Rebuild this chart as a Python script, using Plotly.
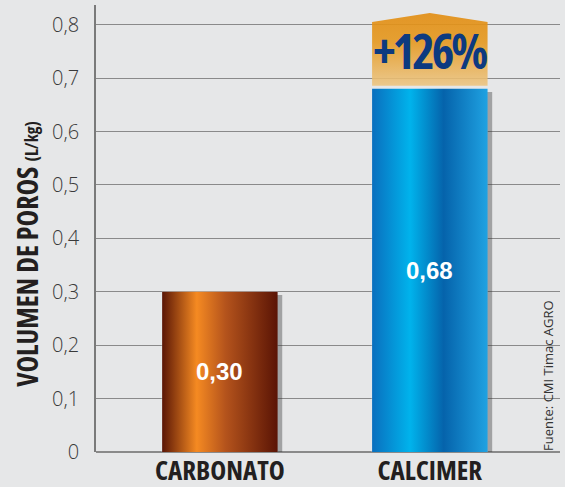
import plotly.graph_objects as go

categories = ["CARBONATO", "CALCIMER"]
values = [0.30, 0.68]
increase_label = "+126%"
y_title = "VOLUMEN DE POROS"
y_unit = "(L/kg)"
source_text = "Fuente: CMI Timac AGRO"

gradients = [
    [[0, "#5a1606"], [0.3, "#f58a22"], [0.55, "#b4531c"], [1, "#5a1405"]],
    [[0, "#0a6fbe"], [0.33, "#00b3ec"], [0.62, "#0563ab"], [1, "#1fa2e2"]],
]

COND = "Open Sans, sans-serif"
def cond(t, w="75%", extra=""):
    return f"<span style='font-stretch:{w};{extra}'>{t}</span>"

BW = 0.55

fig = go.Figure()

fig.add_trace(go.Bar(x=list(range(len(categories))), y=values, width=BW,
                     marker=dict(color="rgba(0,0,0,0)"), hoverinfo="skip",
                     showlegend=False))

for i, v in enumerate(values):
    sx = [i - BW / 2 + 0.022, i + BW / 2 + 0.022, i + BW / 2 + 0.022, i - BW / 2 + 0.022]
    sy = [0, 0, v - 0.006, v - 0.006]
    fig.add_trace(go.Scatter(x=sx, y=sy, fill="toself", mode="none",
                             fillcolor="rgba(50,50,50,0.38)", showlegend=False,
                             hoverinfo="skip"))
    bx = [i - BW / 2, i + BW / 2, i + BW / 2, i - BW / 2, i - BW / 2]
    by = [0, 0, v, v, 0]
    fig.add_trace(go.Scatter(x=bx, y=by, fill="toself", mode="none",
                             fillgradient=dict(type="horizontal",
                                               colorscale=gradients[i]),
                             showlegend=False, hoverinfo="skip"))
    fig.add_annotation(x=i, y=v / 2, text=f"<b>{v:.2f}</b>".replace(".", ","),
                       showarrow=False,
                       font=dict(family="Liberation Sans, sans-serif",
                                 size=24, color="white"))

top = max(values)
ti = values.index(top)
ax = [ti - BW / 2, ti + BW / 2, ti + BW / 2, ti, ti - BW / 2, ti - BW / 2]
ay = [top + 0.006, top + 0.006, top + 0.125, top + 0.142, top + 0.125, top + 0.006]
fig.add_trace(go.Scatter(x=ax, y=ay, fill="toself", mode="none",
                         fillgradient=dict(type="vertical",
                                           colorscale=[[0, "rgba(236,196,128,0.88)"],
                                                       [0.6, "rgba(229,152,30,0.9)"],
                                                       [1, "rgba(226,142,20,0.92)"]]),
                         showlegend=False, hoverinfo="skip"))
fig.add_annotation(x=ti, y=top + 0.072,
                   text=cond(f"<b>{increase_label}</b>", "75%", "letter-spacing:-3px"),
                   showarrow=False,
                   font=dict(family=COND, size=48, color="#0d3a80"))

fig.add_annotation(xref="paper", yref="paper", x=-0.149, y=0.443,
                   text=cond(f"<b>{y_title}</b> <b><span style='font-size:17px'>{y_unit}</span></b>", "82%"),
                   textangle=-90, showarrow=False, xanchor="center", yanchor="middle",
                   font=dict(family=COND, size=28, color="#231f20"))

fig.add_annotation(xref="paper", yref="paper", x=0.974, y=0.172,
                   text=cond(source_text, "92%"), textangle=-90, showarrow=False,
                   xanchor="center", yanchor="middle",
                   font=dict(family=COND, size=13, color="#333333"))

fig.update_layout(
    width=565, height=487,
    margin=dict(l=96, r=5, t=5, b=35, autoexpand=False),
    paper_bgcolor="#e6e7e8", plot_bgcolor="#e6e7e8",
    separators=",.",
    showlegend=False,
    xaxis=dict(range=[-0.59, 1.62], tickvals=list(range(len(categories))),
               ticktext=[cond(f"<b>{c}</b>", "75%") for c in categories],
               tickfont=dict(family=COND, size=27, color="#231f20"),
               showgrid=False, zeroline=False, showline=False, ticks="",
               automargin=False),
    yaxis=dict(range=[0, 0.837], dtick=0.1, tick0=0,
               tickfont=dict(family=COND, size=20, color="#3a3a3a", weight=300),
               showgrid=True, gridcolor="#8a8a8a", gridwidth=1.3,
               zeroline=True, zerolinecolor="#8a8a8a", zerolinewidth=2,
               showline=True, linecolor="#7a7a7a", linewidth=1.5,
               ticks="", ticklabelstandoff=11, automargin=False),
)

fig.write_html("out.html", config={"displayModeBar": False},
               post_script="document.body.style.margin='0px';")
